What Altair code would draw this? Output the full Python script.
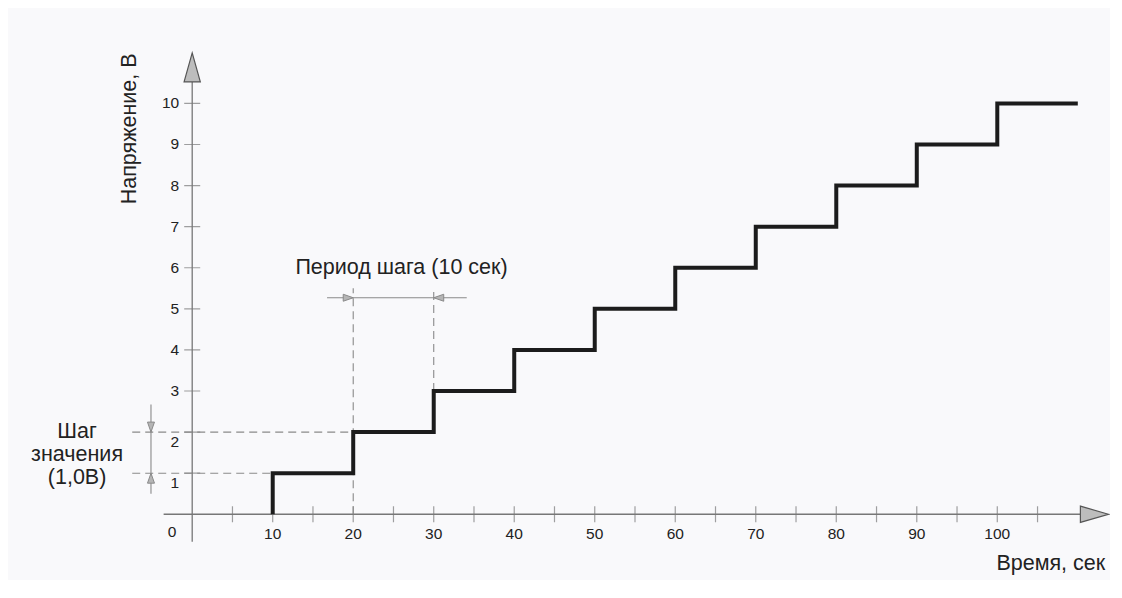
import altair as alt
import pandas as pd

# ---- data ----
step_t = [10, 10, 20, 30, 40, 50, 60, 70, 80, 90, 100, 110]
step_v = [0, 1, 2, 3, 4, 5, 6, 7, 8, 9, 10, 10]

x_ticks = [5, 10, 15, 20, 25, 30, 35, 40, 45, 50, 55, 60, 65, 70, 75, 80, 85, 90, 95, 100, 105]
x_labels = [10, 20, 30, 40, 50, 60, 70, 80, 90, 100]
y_ticks = [1, 2, 3, 4, 5, 6, 7, 8, 9, 10]
y_labels_hi = [3, 4, 5, 6, 7, 8, 9, 10]
y_labels_lo = [1, 2]

x_title = "Время, сек"
y_title = "Напряжение, В"
period_text = "Период шага (10 сек)"
step_text = ["Шаг", "значения", "(1,0В)"]

# annotation geometry (data units)
x_axis_ext = [-3.55, 110.3]
y_axis_ext = [-0.67, 10.53]
x_arrow_tip = 113.8
y_arrow_tip = 11.23
dash_x = [-7.45, -7.45, 20, 30]
dash_x2 = [10, 20, 20, 30]
dash_y = [1, 2, 0, 3]
dash_y2 = [1, 2, 5.5, 5.5]
dim_x = [16.75, -5.12]
dim_x2 = [34.1, -5.12]
dim_y = [5.27, 0.5]
dim_y2 = [5.27, 2.67]

FONT = "Liberation Sans"
TXT = "#222222"
AX = "#777777"
BIG = 21.5
TICKF = 15.5

xs = alt.Scale(domain=[-4, 114], nice=False, zero=False)
ys = alt.Scale(domain=[-1.6, 11.3], nice=False, zero=False)


def X(field="x"):
    return alt.X(f"{field}:Q", scale=xs, axis=None)


def Y(field="y"):
    return alt.Y(f"{field}:Q", scale=ys, axis=None)


def pts(xv, yv):
    return pd.DataFrame({"x": xv, "y": yv})


def arrow(xv, yv, path, size, fill, stroke, sw=1):
    return alt.Chart(pts([xv], [yv])).mark_point(
        shape=path, size=size, filled=True, fill=fill, stroke=stroke,
        strokeWidth=sw, opacity=1
    ).encode(x=X(), y=Y())


layers = []

# axes lines
axes_df = pd.DataFrame({
    "x": [x_axis_ext[0], 0], "x2": [x_axis_ext[1], 0],
    "y": [0, y_axis_ext[0]], "y2": [0, y_axis_ext[1]],
})
layers.append(alt.Chart(axes_df).mark_rule(color=AX, strokeWidth=1.3).encode(
    x=X(), x2="x2:Q", y=Y(), y2="y2:Q"))

# ticks
layers.append(alt.Chart(pts(x_ticks, [0] * len(x_ticks))).mark_tick(
    orient="vertical", size=16, thickness=1.2, color=AX).encode(x=X(), y=Y()))
layers.append(alt.Chart(pts([0] * len(y_ticks), y_ticks)).mark_tick(
    orient="horizontal", size=16, thickness=1.2, color=AX).encode(x=X(), y=Y()))

# dashed guides
dash_df = pd.DataFrame({"x": dash_x, "x2": dash_x2, "y": dash_y, "y2": dash_y2})
layers.append(alt.Chart(dash_df).mark_rule(color="#8a8a8a", strokeWidth=1.1,
                                            strokeDash=[8, 5]).encode(
    x=X(), x2="x2:Q", y=Y(), y2="y2:Q"))

# dimension lines
dim_df = pd.DataFrame({"x": dim_x, "x2": dim_x2, "y": dim_y, "y2": dim_y2})
layers.append(alt.Chart(dim_df).mark_rule(color="#8a8a8a", strokeWidth=1.1).encode(
    x=X(), x2="x2:Q", y=Y(), y2="y2:Q"))

# small dimension arrowheads
SMALL = 400
layers.append(arrow(20, dim_y[0], "M0,0 L-1,-0.35 L-1,0.35 Z", SMALL, "#b5b5b5", "#8a8a8a"))
layers.append(arrow(30, dim_y[0], "M0,0 L1,-0.35 L1,0.35 Z", SMALL, "#b5b5b5", "#8a8a8a"))
layers.append(arrow(dim_x[1], 2, "M0,0 L-0.35,-1 L0.35,-1 Z", SMALL, "#b5b5b5", "#8a8a8a"))
layers.append(arrow(dim_x[1], 1, "M0,0 L-0.35,1 L0.35,1 Z", SMALL, "#b5b5b5", "#8a8a8a"))

# big axis arrowheads
layers.append(arrow(x_arrow_tip, 0, "M0,0 L-1,-0.29 L-1,0.29 Z", 3136, "#bdbdbd", "#555555", 1.2))
layers.append(arrow(0, y_arrow_tip, "M0,0 L0.28,1 L-0.28,1 Z", 3364, "#bdbdbd", "#555555", 1.2))

# step signal
layers.append(alt.Chart(pts(step_t, step_v)).mark_line(
    interpolate="step-after", color="#1c1c1c", strokeWidth=4, strokeJoin="miter",
    strokeCap="butt").encode(x=X(), y=Y(), order="idx:Q").transform_window(
    idx="row_number()"))

# tick labels
layers.append(alt.Chart(pts(x_labels, [0] * len(x_labels))).mark_text(
    font=FONT, fontSize=TICKF, color=TXT, dy=20).encode(x=X(), y=Y(), text="x:Q"))
layers.append(alt.Chart(pts([-2.5], [0])).mark_text(
    font=FONT, fontSize=TICKF, color=TXT, dy=18).encode(x=X(), y=Y(), text=alt.value("0")))
layers.append(alt.Chart(pts([0] * len(y_labels_hi), y_labels_hi)).mark_text(
    font=FONT, fontSize=TICKF, color=TXT, align="right", dx=-13).encode(
    x=X(), y=Y(), text="y:Q"))
layers.append(alt.Chart(pts([0] * len(y_labels_lo), y_labels_lo)).mark_text(
    font=FONT, fontSize=TICKF, color=TXT, align="right", dx=-13, dy=10).encode(
    x=X(), y=Y(), text="y:Q"))

# titles / annotations
layers.append(alt.Chart(pd.DataFrame({"x": [-7.73], "y": [9.38], "t": [y_title]})).mark_text(
    font=FONT, fontSize=BIG, color=TXT, angle=270).encode(x=X(), y=Y(), text="t:N"))
layers.append(alt.Chart(pd.DataFrame({"x": [113.4], "y": [-1.21], "t": [x_title]})).mark_text(
    font=FONT, fontSize=BIG, color=TXT, align="right").encode(x=X(), y=Y(), text="t:N"))
layers.append(alt.Chart(pd.DataFrame({"x": [26.0], "y": [6.0], "t": [period_text]})).mark_text(
    font=FONT, fontSize=BIG, color=TXT).encode(x=X(), y=Y(), text="t:N"))
layers.append(alt.Chart(pd.DataFrame({"x": [-14.3] * 3, "y": [2.01, 1.45, 0.89],
                                      "t": step_text})).mark_text(
    font=FONT, fontSize=BIG, color=TXT).encode(x=X(), y=Y(), text="t:N"))

chart = alt.layer(*layers).properties(
    width=950, height=530,
    autosize=alt.AutoSizeParams(type="none"),
    padding={"left": 152, "top": 42, "right": 0, "bottom": 0},
    background="#f9f9fb",
).configure_view(stroke=None)

chart.save("out.html", embed_options={"renderer": "svg", "actions": False})
